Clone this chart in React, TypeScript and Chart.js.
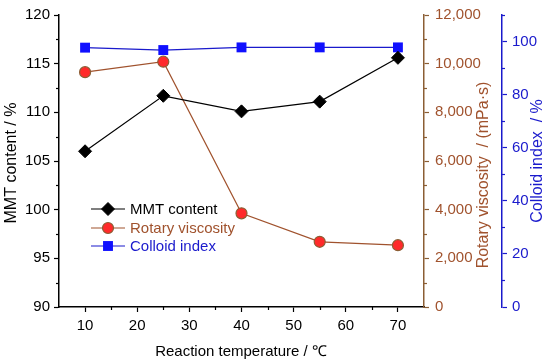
import React, { useEffect, useRef } from 'react';
import { Chart, registerables } from 'chart.js';

Chart.register(...registerables);

// ---- data ----
const temperatures = [10, 25, 40, 55, 70];
const mmtContent = [106.0, 111.7, 110.1, 111.1, 115.6];
const rotaryViscosity = [9650, 10080, 3850, 2680, 2540];
const colloidIndex = [97.7, 96.8, 97.8, 97.8, 97.8];

// ---- tick labels ----
const xMajorTicks = [10, 20, 30, 40, 50, 60, 70];
const xMinorTicks = [15, 25, 35, 45, 55, 65];
const mmtMajorTicks = [90, 95, 100, 105, 110, 115, 120];
const mmtMinorTicks = [92.5, 97.5, 102.5, 107.5, 112.5, 117.5];
const viscMajorTicks = [0, 2000, 4000, 6000, 8000, 10000, 12000];
const viscMinorTicks = [1000, 3000, 5000, 7000, 9000, 11000];
const colloidMajorTicks = [0, 20, 40, 60, 80, 100];
const colloidMinorTicks = [10, 30, 50, 70, 90, 110];

const seriesNames = ['MMT content', 'Rotary viscosity', 'Colloid index'];
const xTitle = 'Reaction temperature / \u2103';
const mmtTitle = 'MMT content / %';
const viscTitle = 'Rotary viscosity  / (mPa\u00b7s)';
const colloidTitle = 'Colloid index  / %';

const FONT = '"Liberation Sans", Arial, sans-serif';
const BLACK = '#000000';
const BROWN_AXIS = '#8b5e34';
const BROWN_TEXT = '#a0522d';
const BLUE = '#1a1acc';
const BLUE_FILL = '#1010ff';
const RED_FILL = '#ff2a2a';

const pts = (vals: number[]) => temperatures.map((t, i) => ({ x: t, y: vals[i] }));

function drawMarker(ctx: CanvasRenderingContext2D, style: string, x: number, y: number, r: number, fill: string, stroke: string, bw: number) {
  ctx.save();
  ctx.fillStyle = fill;
  ctx.strokeStyle = stroke;
  ctx.lineWidth = bw;
  ctx.beginPath();
  if (style === 'rectRot') {
    ctx.moveTo(x, y - r);
    ctx.lineTo(x + r, y);
    ctx.lineTo(x, y + r);
    ctx.lineTo(x - r, y);
    ctx.closePath();
  } else if (style === 'rect') {
    const s = r * Math.SQRT1_2;
    ctx.rect(x - s, y - s, 2 * s, 2 * s);
  } else {
    ctx.arc(x, y, r, 0, Math.PI * 2);
  }
  ctx.fill();
  if (bw > 0) ctx.stroke();
  ctx.restore();
}

const decorPlugin = {
  id: 'decor',
  afterDraw(chart: any) {
    const ctx: CanvasRenderingContext2D = chart.ctx;
    const { x, y, y1, y2 } = chart.scales;
    ctx.save();
    // minor ticks
    const minorLen = 3;
    ctx.lineWidth = 1.2;
    ctx.strokeStyle = BLACK;
    xMinorTicks.forEach((v) => {
      const p = Math.round(x.getPixelForValue(v)) + 0.5;
      ctx.beginPath();
      ctx.moveTo(p, x.top);
      ctx.lineTo(p, x.top + minorLen);
      ctx.stroke();
    });
    mmtMinorTicks.forEach((v) => {
      const p = Math.round(y.getPixelForValue(v)) + 0.5;
      ctx.beginPath();
      ctx.moveTo(y.right - minorLen, p);
      ctx.lineTo(y.right, p);
      ctx.stroke();
    });
    ctx.strokeStyle = BROWN_AXIS;
    viscMinorTicks.forEach((v) => {
      const p = Math.round(y1.getPixelForValue(v)) + 0.5;
      ctx.beginPath();
      ctx.moveTo(y1.left, p);
      ctx.lineTo(y1.left + minorLen, p);
      ctx.stroke();
    });
    ctx.strokeStyle = BLUE;
    colloidMinorTicks.forEach((v) => {
      const p = Math.round(y2.getPixelForValue(v)) + 0.5;
      ctx.beginPath();
      ctx.moveTo(y2.left, p);
      ctx.lineTo(y2.left + minorLen, p);
      ctx.stroke();
    });

    // axis titles
    ctx.textAlign = 'center';
    ctx.textBaseline = 'middle';
    ctx.font = `15px ${FONT}`;
    ctx.fillStyle = BLACK;
    ctx.fillText(xTitle, 241, 352);
    const vtitle = (text: string, cx: number, cy: number, color: string) => {
      ctx.save();
      ctx.translate(cx, cy);
      ctx.rotate(-Math.PI / 2);
      ctx.fillStyle = color;
      ctx.font = `16px ${FONT}`;
      ctx.fillText(text, 0, 0);
      ctx.restore();
    };
    vtitle(mmtTitle, 12, 163, BLACK);
    vtitle(viscTitle, 484, 175, BROWN_TEXT);
    vtitle(colloidTitle, 538, 161, BLUE);

    // legend
    const rows = [209, 228, 246];
    const textColors = [BLACK, BROWN_TEXT, BLUE];
    chart.data.datasets.forEach((ds: any, i: number) => {
      const ry = rows[i];
      ctx.strokeStyle = ds.borderColor;
      ctx.lineWidth = ds.borderWidth;
      ctx.beginPath();
      ctx.moveTo(91, ry);
      ctx.lineTo(125, ry);
      ctx.stroke();
      drawMarker(ctx, ds.pointStyle, 108, ry, ds.pointRadius, ds.pointBackgroundColor, ds.pointBorderColor, ds.pointBorderWidth);
      ctx.fillStyle = textColors[i];
      ctx.font = `15px ${FONT}`;
      ctx.textAlign = 'left';
      ctx.textBaseline = 'middle';
      ctx.fillText(ds.label, 130, ry + 1);
    });
    ctx.restore();
  },
};

export default function App() {
  const ref = useRef<HTMLCanvasElement | null>(null);
  useEffect(() => {
    document.body.style.margin = '0';
    if (!ref.current) return;
    const tickFont = { family: FONT, size: 15 };
    const chart = new Chart(ref.current, {
      type: 'line',
      data: {
        datasets: [
          {
            label: seriesNames[0],
            data: pts(mmtContent),
            yAxisID: 'y',
            borderColor: BLACK,
            borderWidth: 1.2,
            pointStyle: 'rectRot',
            pointRadius: 6.5,
            pointBackgroundColor: BLACK,
            pointBorderColor: BLACK,
            pointBorderWidth: 1,
            tension: 0,
          },
          {
            label: seriesNames[1],
            data: pts(rotaryViscosity),
            yAxisID: 'y1',
            borderColor: BROWN_TEXT,
            borderWidth: 1.2,
            pointStyle: 'circle',
            pointRadius: 5.5,
            pointBackgroundColor: RED_FILL,
            pointBorderColor: BROWN_AXIS,
            pointBorderWidth: 1.2,
            tension: 0,
          },
          {
            label: seriesNames[2],
            data: pts(colloidIndex),
            yAxisID: 'y2',
            borderColor: BLUE,
            borderWidth: 1.2,
            pointStyle: 'rect',
            pointRadius: 7,
            pointBackgroundColor: BLUE_FILL,
            pointBorderColor: BLUE_FILL,
            pointBorderWidth: 0,
            tension: 0,
          },
        ] as any,
      },
      options: {
        animation: false,
        responsive: false,
        devicePixelRatio: 1,
        layout: { padding: { top: 13, left: 0, right: 0, bottom: 0 } },
        plugins: { legend: { display: false }, tooltip: { enabled: false } },
        scales: {
          x: {
            type: 'linear',
            position: 'bottom',
            min: 5,
            max: 75,
            afterBuildTicks: (s: any) => { s.ticks = xMajorTicks.map((v) => ({ value: v })); },
            afterFit: (s: any) => { s.height = 57; },
            grid: { drawOnChartArea: false, drawTicks: true, tickLength: 5, tickColor: BLACK, tickWidth: 1.2 },
            border: { color: BLACK, width: 1.5 },
            ticks: { color: BLACK, font: tickFont, padding: 5, maxRotation: 0, autoSkip: false },
          },
          y: {
            type: 'linear',
            position: 'left',
            min: 90,
            max: 120,
            afterBuildTicks: (s: any) => { s.ticks = mmtMajorTicks.map((v) => ({ value: v })); },
            afterFit: (s: any) => { s.width = 59; },
            grid: { drawOnChartArea: false, drawTicks: true, tickLength: 5, tickColor: BLACK, tickWidth: 1.2 },
            border: { color: BLACK, width: 1.5 },
            ticks: { color: BLACK, font: tickFont, padding: 4, autoSkip: false },
          },
          y1: {
            type: 'linear',
            position: 'right',
            weight: 0,
            min: 0,
            max: 12000,
            afterBuildTicks: (s: any) => { s.ticks = viscMajorTicks.map((v) => ({ value: v })); },
            afterFit: (s: any) => { s.width = 78; },
            grid: { drawOnChartArea: false, drawTicks: true, tickLength: 5, tickColor: BROWN_AXIS, tickWidth: 1.2 },
            border: { color: BROWN_AXIS, width: 1.5 },
            ticks: {
              color: BROWN_TEXT,
              font: tickFont,
              padding: 6,
              autoSkip: false,
              callback: (v: any) => Number(v).toLocaleString('en-US'),
            },
          },
          y2: {
            type: 'linear',
            position: 'right',
            weight: 1,
            min: 0,
            max: 110,
            afterBuildTicks: (s: any) => { s.ticks = colloidMajorTicks.map((v) => ({ value: v })); },
            afterFit: (s: any) => { s.width = 48; },
            grid: { drawOnChartArea: false, drawTicks: true, tickLength: 5, tickColor: BLUE, tickWidth: 1.2 },
            border: { color: BLUE, width: 1.5 },
            ticks: { color: BLUE, font: tickFont, padding: 5, autoSkip: false },
          },
        },
      } as any,
      plugins: [decorPlugin],
    });
    return () => chart.destroy();
  }, []);
  return (
    <div style={{ width: 550, height: 364 }}>
      <canvas ref={ref} width={550} height={364} style={{ display: 'block', width: 550, height: 364 }} />
    </div>
  );
}
